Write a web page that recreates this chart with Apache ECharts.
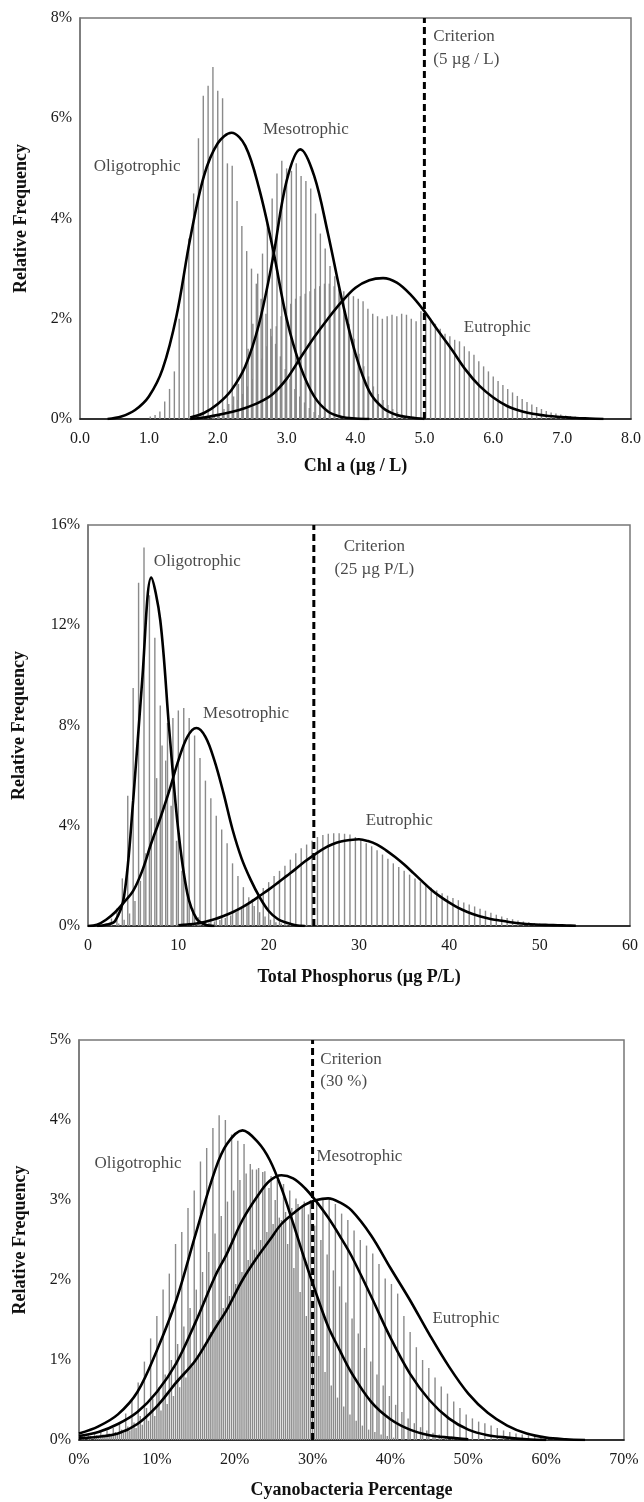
<!DOCTYPE html>
<html>
<head>
<meta charset="utf-8">
<script src="https://cdn.jsdelivr.net/npm/echarts@6/dist/echarts.min.js"></script>
<style>
  html, body { margin: 0; padding: 0; background: #fff; }
  #chart { width: 644px; height: 1502px; }
</style>
</head>
<body>
<div id="chart"></div>
<script>
// ---------- panel 1 : Chl a ----------
var chlBinStep = 0.07;
var chlOligoStart = 1.02;
var chlOligoFreq = [0.05, 0.08, 0.15, 0.35, 0.6, 0.95, 2.0, 2.9, 3.6, 4.5, 5.6, 6.45, 6.65, 7.02, 6.55, 6.4,
  5.1, 5.05, 4.35, 3.85, 3.35, 3.0, 2.7, 2.4, 2.1, 1.8, 1.5, 1.25, 1.0, 0.8, 0.6, 0.45, 0.33, 0.22, 0.14, 0.08, 0.04];
var chlMesoStart = 1.95;
var chlMesoFreq = [0.05, 0.1, 0.2, 0.3, 0.45, 0.7, 1.0, 1.4, 1.9, 2.9, 3.3, 3.9, 4.4, 4.9, 5.15, 5.0, 4.95, 5.1,
  4.85, 4.75, 4.6, 4.1, 3.7, 3.4, 3.05, 2.85, 2.6, 2.2, 1.9, 1.6, 1.3, 1.05, 0.85, 0.65, 0.5, 0.38, 0.28, 0.2,
  0.14, 0.09, 0.05];
var chlEutroStart = 2.01;
var chlEutroFreq = [0.1, 0.15, 0.2, 0.28, 0.38, 0.5, 0.65, 0.8, 1.0, 1.2, 1.45, 1.65, 1.85, 2.05, 2.2, 2.3, 2.4,
  2.45, 2.5, 2.55, 2.6, 2.65, 2.7, 2.7, 2.65, 2.6, 2.55, 2.5, 2.45, 2.4, 2.35, 2.2, 2.1, 2.05, 2.0, 2.05, 2.08,
  2.05, 2.1, 2.08, 2.0, 1.95, 2.15, 2.1, 2.0, 1.9, 1.8, 1.7, 1.65, 1.58, 1.55, 1.45, 1.35, 1.28, 1.15, 1.05, 0.95,
  0.85, 0.76, 0.68, 0.6, 0.53, 0.46, 0.4, 0.34, 0.29, 0.24, 0.2, 0.16, 0.13, 0.11, 0.09, 0.07, 0.06, 0.05, 0.04,
  0.03, 0.02];
var chlCurveX = [0, 0.2, 0.4, 0.6, 0.8, 1.0, 1.2, 1.4, 1.6, 1.8, 2.0, 2.2, 2.4, 2.6, 2.8, 3.0, 3.2, 3.4, 3.6, 3.8,
  4.0, 4.2, 4.4, 4.6, 4.8, 5.0, 5.2, 5.4, 5.6, 5.8, 6.0, 6.2, 6.4, 6.6, 6.8, 7.0, 7.2, 7.4, 7.6, 7.8, 8.0];
var chlOligoFit = [null, null, 0.0, 0.05, 0.18, 0.45, 1.0, 2.05, 3.6, 4.85, 5.5, 5.71, 5.45, 4.6, 3.4, 2.0, 1.05,
  0.45, 0.15, 0.04, 0.01, 0.0, null, null, null, null, null, null, null, null, null, null, null, null, null,
  null, null, null, null, null, null];
var chlMesoFit = [null, null, null, null, null, null, null, null, 0.03, 0.12, 0.3, 0.58, 1.05, 1.9, 3.2, 4.75,
  5.38, 4.85, 3.7, 2.4, 1.3, 0.55, 0.22, 0.08, 0.03, 0.0, null, null, null, null, null, null, null, null, null,
  null, null, null, null, null, null];
var chlEutroFit = [null, null, null, null, null, null, null, null, 0.0, 0.03, 0.08, 0.14, 0.22, 0.33, 0.5, 0.8,
  1.22, 1.63, 2.0, 2.34, 2.62, 2.77, 2.81, 2.72, 2.48, 2.15, 1.76, 1.38, 0.98, 0.66, 0.43, 0.26, 0.16, 0.1, 0.06,
  0.04, 0.02, 0.01, 0.0, null, null];

// ---------- panel 2 : Total Phosphorus ----------
var tpBinStep = 0.6;
var tpOligoStart = 2.0;
var tpOligoFreq = [0.1, 0.3, 0.7, 1.9, 5.2, 9.5, 13.7, 15.1, 13.2, 11.5, 8.8, 6.6, 4.8, 3.4, 2.2, 1.3, 0.7,
  0.35, 0.15, 0.05];
var tpMesoStart = 3.4;
var tpMesoFreq = [0.1, 0.25, 0.5, 1.0, 1.8, 2.9, 4.3, 5.9, 7.2, 8.1, 8.3, 8.6, 8.7, 8.3, 7.6, 6.7, 5.8, 5.1,
  4.4, 3.85, 3.3, 2.5, 2.0, 1.55, 1.15, 0.8, 0.55, 0.38, 0.25, 0.15, 0.1, 0.05];
var tpEutroStart = 12.2;
var tpEutroFreq = [0.08, 0.1, 0.14, 0.18, 0.24, 0.32, 0.42, 0.55, 0.7, 0.88, 1.08, 1.3, 1.52, 1.75, 2.0, 2.2,
  2.4, 2.65, 2.9, 3.1, 3.25, 3.4, 3.55, 3.63, 3.68, 3.7, 3.7, 3.68, 3.65, 3.55, 3.42, 3.3, 3.18, 3.02, 2.85,
  2.68, 2.5, 2.35, 2.2, 2.05, 1.9, 1.77, 1.64, 1.53, 1.42, 1.31, 1.21, 1.12, 1.03, 0.94, 0.86, 0.78, 0.69, 0.61,
  0.53, 0.45, 0.38, 0.32, 0.27, 0.22, 0.18, 0.15, 0.12, 0.1, 0.08, 0.06, 0.05, 0.04, 0.03, 0.02];
var tpCurveX = [0, 1, 2, 3, 4, 5, 6, 7, 8, 9, 10, 11, 12, 13, 14, 15, 16, 17, 18, 19, 20, 21, 22, 23, 24, 25,
  26, 27, 28, 29, 30, 31, 32, 33, 34, 35, 36, 37, 38, 39, 40, 41, 42, 43, 44, 45, 46, 47, 48, 49, 50, 51, 52,
  53, 54];
var tpOligoFit = [null, 0.0, 0.05, 0.2, 1.2, 5.0, 9.8, 13.9, 12.2, 7.8, 3.8, 1.3, 0.3, 0.05, 0.0];
var tpMesoFit = [0.0, 0.05, 0.25, 0.55, 0.95, 1.4, 2.2, 3.3, 4.3, 5.4, 6.6, 7.55, 7.9, 7.55, 6.6, 5.3, 3.85,
  2.7, 1.85, 1.15, 0.6, 0.28, 0.13, 0.03, 0.0];
var tpEutroFit = [null, null, null, null, null, null, null, null, null, null, 0.03, 0.06, 0.1, 0.17, 0.27, 0.4,
  0.55, 0.73, 0.95, 1.2, 1.45, 1.72, 2.0, 2.28, 2.57, 2.83, 3.07, 3.25, 3.37, 3.43, 3.46, 3.39, 3.25, 3.02,
  2.75, 2.45, 2.12, 1.78, 1.45, 1.17, 0.93, 0.72, 0.56, 0.43, 0.33, 0.25, 0.2, 0.14, 0.1, 0.07, 0.05, 0.04,
  0.03, 0.02, 0.01];

// ---------- panel 3 : Cyanobacteria ----------
var cyBinStep = 0.8;
var cyOligoStart = 0.4;
var cyOligoFreq = [0.05, 0.06, 0.08, 0.1, 0.12, 0.15, 0.2, 0.33, 0.5, 0.72, 0.98, 1.27, 1.55, 1.88, 2.08, 2.45,
  2.6, 2.9, 3.12, 3.48, 3.65, 3.9, 4.06, 4.0, 3.82, 3.74, 3.7, 3.45, 3.38, 3.35, 3.15, 3.0, 2.75, 2.45, 2.15,
  1.85, 1.55, 1.28, 1.05, 0.85, 0.68, 0.53, 0.42, 0.32, 0.24, 0.18, 0.13, 0.1, 0.07, 0.05, 0.03];
var cyMesoStart = 0.67;
var cyMesoFreq = [0.05, 0.05, 0.06, 0.07, 0.08, 0.1, 0.13, 0.17, 0.22, 0.3, 0.4, 0.52, 0.66, 0.82, 1.0, 1.2,
  1.42, 1.65, 1.88, 2.1, 2.35, 2.58, 2.8, 2.98, 3.12, 3.25, 3.33, 3.38, 3.4, 3.36, 3.3, 3.25, 3.2, 3.12, 3.02,
  2.92, 2.82, 2.68, 2.5, 2.32, 2.12, 1.92, 1.72, 1.52, 1.33, 1.15, 0.98, 0.82, 0.68, 0.55, 0.44, 0.35, 0.27,
  0.21, 0.16, 0.12, 0.09, 0.07, 0.05, 0.04, 0.03, 0.02];
var cyEutroStart = 2.53;
var cyEutroFreq = [0.03, 0.04, 0.05, 0.07, 0.09, 0.12, 0.15, 0.19, 0.24, 0.3, 0.37, 0.45, 0.55, 0.66, 0.78, 0.92,
  1.06, 1.2, 1.35, 1.5, 1.65, 1.8, 1.95, 2.1, 2.25, 2.38, 2.5, 2.6, 2.7, 2.78, 2.85, 2.9, 2.95, 2.98, 3.0, 3.0,
  3.02, 3.0, 2.95, 2.83, 2.75, 2.62, 2.5, 2.43, 2.33, 2.2, 2.02, 1.95, 1.83, 1.55, 1.35, 1.16, 1.0, 0.9, 0.78,
  0.67, 0.58, 0.48, 0.4, 0.32, 0.27, 0.23, 0.21, 0.18, 0.15, 0.12, 0.1, 0.08, 0.07, 0.06, 0.05, 0.04, 0.03, 0.03,
  0.02, 0.02, 0.01];
var cyCurveX = [0, 2.5, 5, 7.5, 10, 12.5, 15, 17.5, 19, 21, 23, 24.5, 26, 27.5, 29, 30.5, 32, 33.5, 35, 37.5,
  40, 42.5, 45, 47.5, 50, 52.5, 55, 57.5, 60, 62.5, 65];
var cyOligoFit = [0.08, 0.17, 0.32, 0.6, 1.12, 1.75, 2.58, 3.38, 3.7, 3.87, 3.72, 3.5, 3.15, 2.71, 2.25, 1.82,
  1.42, 1.12, 0.84, 0.48, 0.26, 0.13, 0.06, 0.03, 0.01];
var cyMesoFit = [0.05, 0.1, 0.2, 0.35, 0.6, 0.96, 1.48, 2.05, 2.33, 2.75, 3.06, 3.24, 3.31, 3.27, 3.15, 2.98,
  2.78, 2.55, 2.3, 1.8, 1.28, 0.83, 0.5, 0.27, 0.13, 0.06, 0.03, 0.01, 0.0];
var cyEutroFit = [0.02, 0.04, 0.08, 0.2, 0.42, 0.72, 1.0, 1.4, 1.63, 2.0, 2.3, 2.5, 2.7, 2.83, 2.94, 3.0, 3.02,
  2.97, 2.87, 2.56, 2.15, 1.75, 1.32, 0.92, 0.58, 0.34, 0.18, 0.08, 0.03, 0.01, 0.0];

// criterion values and axis ranges
var criteria = [5, 25, 30];
var xMax = [8, 60, 70];
var xInterval = [1, 10, 10];
var yMax = [8, 16, 5];
var yInterval = [2, 4, 1];
var xTitles = ['Chl a (\u00b5g / L)', 'Total Phosphorus (\u00b5g P/L)', 'Cyanobacteria Percentage'];

// ---------- build ----------
var SERIF = '"Liberation Serif", "Times New Roman", serif';

function bins(start, step, freq) {
  return freq.map(function (v, i) { return [+(start + i * step).toFixed(3), v]; });
}
function curve(xs, ys) {
  var out = [];
  for (var i = 0; i < ys.length; i++) if (ys[i] != null) out.push([xs[i], ys[i]]);
  return out;
}

var panels = [
  {
    hist: [bins(chlOligoStart, chlBinStep, chlOligoFreq), bins(chlMesoStart, chlBinStep, chlMesoFreq),
      bins(chlEutroStart, chlBinStep, chlEutroFreq)],
    fits: [curve(chlCurveX, chlOligoFit), curve(chlCurveX, chlMesoFit), curve(chlCurveX, chlEutroFit)],
    notes: [
      { t: 'Criterion', v: [5.13, 7.64], a: 'left' },
      { t: '(5 \u00b5g / L)', v: [5.13, 7.17], a: 'left' },
      { t: 'Mesotrophic', v: [3.28, 5.77], a: 'center' },
      { t: 'Oligotrophic', v: [0.83, 5.03], a: 'center' },
      { t: 'Eutrophic', v: [6.06, 1.82], a: 'center' }
    ]
  },
  {
    hist: [bins(tpOligoStart, tpBinStep, tpOligoFreq), bins(tpMesoStart, tpBinStep, tpMesoFreq),
      bins(tpEutroStart, tpBinStep, tpEutroFreq)],
    fits: [curve(tpCurveX, tpOligoFit), curve(tpCurveX, tpMesoFit), curve(tpCurveX, tpEutroFit)],
    notes: [
      { t: 'Criterion', v: [31.7, 15.16], a: 'center' },
      { t: '(25 \u00b5g P/L)', v: [31.7, 14.23], a: 'center' },
      { t: 'Oligotrophic', v: [12.1, 14.54], a: 'center' },
      { t: 'Mesotrophic', v: [17.5, 8.49], a: 'center' },
      { t: 'Eutrophic', v: [34.45, 4.2], a: 'center' }
    ]
  },
  {
    hist: [bins(cyOligoStart, cyBinStep, cyOligoFreq), bins(cyMesoStart, cyBinStep, cyMesoFreq),
      bins(cyEutroStart, cyBinStep, cyEutroFreq)],
    fits: [curve(cyCurveX, cyOligoFit), curve(cyCurveX, cyMesoFit), curve(cyCurveX, cyEutroFit)],
    notes: [
      { t: 'Criterion', v: [31.0, 4.76], a: 'left' },
      { t: '(30 %)', v: [31.0, 4.48], a: 'left' },
      { t: 'Oligotrophic', v: [7.58, 3.46], a: 'center' },
      { t: 'Mesotrophic', v: [30.5, 3.54], a: 'left' },
      { t: 'Eutrophic', v: [49.7, 1.52], a: 'center' }
    ]
  }
];

var grids = [
  { left: 80, top: 18, width: 552, height: 401 },
  { left: 88, top: 525, width: 542, height: 401 },
  { left: 79, top: 1040, width: 545, height: 400 }
];
var yNameGap = [50, 60, 50];
var xNameGap = [38, 42, 41];

var xLabelFmt = [
  function (v) { return v.toFixed(1); },
  function (v) { return String(v); },
  function (v) { return v + '%'; }
];

var option = {
  backgroundColor: '#fff',
  animation: false,
  grid: grids.map(function (g) {
    return Object.assign({ show: true, borderColor: '#777', borderWidth: 1.5, backgroundColor: 'transparent' }, g);
  }),
  xAxis: [0, 1, 2].map(function (p) {
    return {
      type: 'value', gridIndex: p, min: 0, max: xMax[p], interval: xInterval[p],
      axisLine: { show: true, onZero: false, lineStyle: { color: '#111', width: 1.5 } },
      axisTick: { show: false },
      splitLine: { show: false },
      axisLabel: { fontFamily: SERIF, fontSize: 16, color: '#1a1a1a', margin: 12,
        showMinLabel: true, showMaxLabel: true, formatter: xLabelFmt[p] },
      name: xTitles[p], nameLocation: 'middle', nameGap: xNameGap[p],
      nameTextStyle: { fontFamily: SERIF, fontWeight: 'bold', fontSize: 18, color: '#111' }
    };
  }),
  yAxis: [0, 1, 2].map(function (p) {
    return {
      type: 'value', gridIndex: p, min: 0, max: yMax[p], interval: yInterval[p],
      axisLine: { show: true, lineStyle: { color: '#777', width: 1.5 } },
      axisTick: { show: false },
      splitLine: { show: false },
      axisLabel: { fontFamily: SERIF, fontSize: 16, color: '#1a1a1a', margin: 8, formatter: '{value}%' },
      name: 'Relative Frequency', nameLocation: 'middle', nameGap: yNameGap[p],
      nameTextStyle: { fontFamily: SERIF, fontWeight: 'bold', fontSize: 18, color: '#111' }
    };
  }),
  series: []
};

panels.forEach(function (pn, p) {
  pn.hist.forEach(function (h) {
    option.series.push({
      type: 'bar', xAxisIndex: p, yAxisIndex: p, data: h,
      barWidth: 1.4, barGap: '-100%', silent: true,
      itemStyle: { color: '#8a8a8a' }, z: 2
    });
  });
  pn.fits.forEach(function (f) {
    option.series.push({
      type: 'line', xAxisIndex: p, yAxisIndex: p, data: f, smooth: 0.35,
      showSymbol: false, silent: true,
      lineStyle: { color: '#000', width: 2.6 }, z: 4
    });
  });
  option.series.push({
    type: 'line', xAxisIndex: p, yAxisIndex: p,
    data: [[criteria[p], 0], [criteria[p], yMax[p]]],
    showSymbol: false, silent: true,
    lineStyle: { color: '#000', width: 3, type: [7, 4] }, z: 5
  });
  option.series.push({
    type: 'scatter', xAxisIndex: p, yAxisIndex: p, symbolSize: 0, silent: true, z: 6,
    data: pn.notes.map(function (n) {
      return {
        value: n.v,
        label: { show: true, position: 'inside', formatter: n.t, align: n.a,
          fontFamily: SERIF, fontSize: 17, color: '#1a1a1a' }
      };
    })
  });
});

var chart = echarts.init(document.getElementById('chart'));
chart.setOption(option);
</script>
</body>
</html>
